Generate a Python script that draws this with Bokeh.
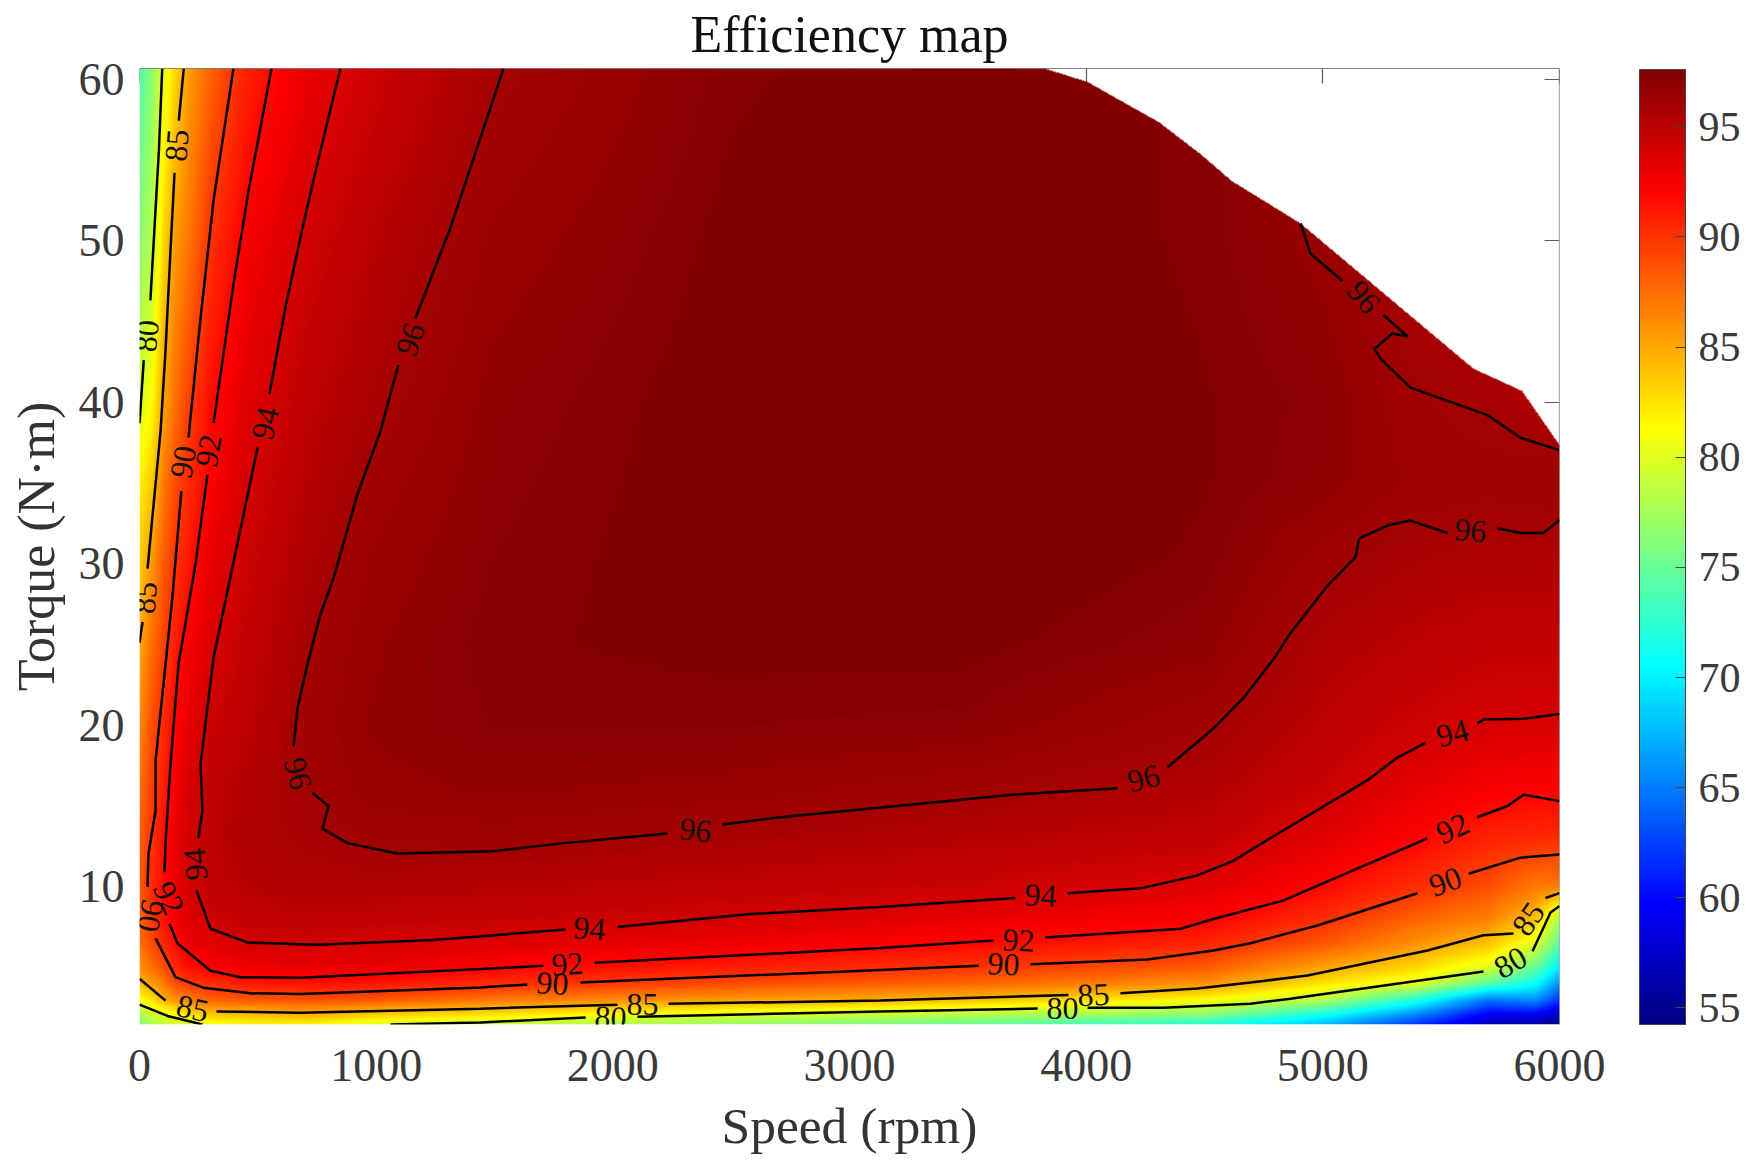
import numpy as np
from bokeh.plotting import figure
from bokeh.embed import file_html
from bokeh.resources import INLINE
from bokeh.models import (ColorBar, ColumnDataSource, CustomLabelingPolicy, FixedTicker, LabelSet, LinearAxis,
                          LinearColorMapper, Range1d, Span)

TITLE = "Efficiency map"
X_LABEL = "Speed (rpm)"
Y_LABEL = "Torque (N·m)"
X_TICKS = [0, 1000, 2000, 3000, 4000, 5000, 6000]
Y_TICKS = [10, 20, 30, 40, 50, 60]
CB_TICKS = [55, 60, 65, 70, 75, 80, 85, 90, 95]
SPEED_MAX = 6000
TORQUE_MIN, TORQUE_MAX = 1.47, 60.66
EFF_MIN, EFF_MAX = 54.25, 97.6

# efficiency table: one list per speed, one value per torque
torque_axis = [1.47, 2, 3, 4, 5, 6.5, 8, 10, 13, 16, 20, 25, 30, 35, 40, 50, 60.66]
speed_axis = [0, 50, 100, 150, 200, 300, 450, 700, 1000, 1500, 2500, 3500, 4500, 5000, 5400, 5700, 5900, 6000]
eff_0 = [76, 77.5, 81, 84.3, 86, 87.5, 88, 88.3, 88, 87.5, 86.5, 85, 83.5, 82, 79.7, 76.5, 74]
eff_50 = [78, 79, 82.5, 85.5, 87.5, 89, 90, 90.4, 90, 89.5, 88.8, 87.5, 85.8, 83.5, 81.3, 78.2, 76.5]
eff_100 = [79, 79.6, 84.8, 87, 88.8, 90.6, 91.4, 91.8, 91.6, 91, 90.4, 89.4, 88.3, 87, 85.3, 83, 80.2]
eff_150 = [79.5, 81, 86, 89, 90.5, 91.7, 92.6, 93, 93, 92.6, 92.1, 91, 90, 88.9, 87.5, 85.7, 83]
eff_200 = [79.3, 82, 86.8, 89.7, 91.6, 93, 93.5, 93.9, 94, 93.7, 93, 92.3, 91.1, 90.3, 89.2, 87, 85.3]
eff_300 = [80.8, 83.5, 88.2, 90.3, 92.2, 93.4, 94.2, 94.8, 95, 94.9, 94.4, 93.7, 93.1, 92.3, 91.7, 90.1, 88]
eff_450 = [81.8, 83.5, 88.5, 91.2, 92.8, 94, 94.7, 95.2, 95.5, 95.4, 95, 94.7, 94.3, 93.9, 93.4, 92.4, 90.8]
eff_700 = [82, 84.5, 88.9, 91.5, 93, 94.1, 95, 95.5, 95.8, 96, 96.1, 95.9, 95.6, 95.2, 94.9, 94.1, 92.9]
eff_1000 = [80.2, 83.1, 88.6, 91.4, 93, 93.9, 94.8, 95.5, 96.1, 96.6, 96.8, 96.7, 96.5, 96.2, 95.8, 95.2, 94.3]
eff_1500 = [79, 82.2, 87.2, 90.4, 92.1, 93.5, 94.6, 95.3, 96.2, 96.8, 97.1, 97.2, 97.1, 97, 96.9, 96.5, 95.9]
eff_2500 = [77, 79.7, 85.7, 89, 91, 92.8, 94, 94.9, 95.8, 96.6, 97.1, 97.4, 97.5, 97.5, 97.5, 97.4, 97.2]
eff_3500 = [75, 78, 84.3, 88, 90, 91.9, 93.1, 94.4, 95.3, 96.1, 97, 97.4, 97.6, 97.6, 97.6, 97.6, 97.5]
eff_4500 = [72, 76, 81.5, 86, 88.4, 90.7, 92.2, 93.4, 94.8, 95.4, 96.1, 96.9, 97.2, 97.3, 97.3, 97.2, 97.2]
eff_5000 = [68, 71, 78.5, 82.5, 85.3, 88.6, 90.3, 91.9, 93.4, 94.4, 95, 95.5, 96.2, 96.9, 97, 96.6, 96]
eff_5400 = [62, 65, 72, 80.3, 83, 86, 88, 90.2, 92, 93.2, 94.3, 95, 95.7, 96.3, 96.1, 95.5, 95]
eff_5700 = [57, 59, 65, 74.5, 80, 84, 86.7, 88.9, 90.7, 92.4, 93.9, 94.7, 95.5, 96.2, 95.9, 95.3, 95]
eff_5900 = [56, 59, 66, 71, 75, 80.3, 84, 87, 90.5, 92.1, 93.8, 94.7, 95.5, 96.3, 95.6, 95.3, 95]
eff_6000 = [54.5, 57, 62, 66, 70, 74.5, 78, 87, 90.3, 92.1, 93.8, 94.7, 95.4, 96.4, 95.5, 95.2, 95]
eff_columns = [eff_0, eff_50, eff_100, eff_150, eff_200, eff_300, eff_450, eff_700, eff_1000,
               eff_1500, eff_2500, eff_3500, eff_4500, eff_5000, eff_5400, eff_5700, eff_5900, eff_6000]

# torque limit of the machine: above it the map is empty
limit_speed = [3832, 4006, 4310, 4483, 4618, 4906, 5637, 5844, 6000]
limit_torque = [60.66, 59.86, 57.35, 55.4, 53.7, 51.1, 42.1, 40.7, 37.4]

# contour pieces, as (speeds, torques)
c80_pieces = [
    ([96, 82, 46], [60.66, 55.6, 46.3]),
    ([18, 0], [42.6, 38.7]),
    ([0, 118, 266], [2.7, 2.0, 1.47]),
    ([1061, 1441, 1885], [1.47, 1.6, 1.9]),
    ([2104, 3131, 3795], [1.95, 2.27, 2.46]),
    ([4006, 4327, 4694, 4863, 5679], [2.5, 2.5, 2.75, 3.07, 4.75]),
    ([5886, 5962, 6000], [6.0, 8.4, 8.8]),
]
c85_pieces = [
    ([187, 166], [60.66, 57.44]),
    ([148, 131, 110, 89, 34], [54.2, 49.4, 43.2, 38.2, 29.7]),
    ([13, 0], [26.4, 25.1]),
    ([0, 110], [4.3, 2.95]),
    ([325, 680, 1441, 2020], [2.27, 2.2, 2.45, 2.7]),
    ([2235, 3131, 3925], [2.75, 2.95, 3.3]),
    ([4145, 4470, 4694, 4935, 5442, 5679, 5806], [3.4, 3.7, 4.07, 4.5, 6.05, 7.0, 7.1]),
    ([5941, 6000], [9.3, 9.6]),
]
c90_pieces = [
    ([397, 313, 258, 207], [60.66, 52.5, 45.2, 37.8]),
    ([177, 139, 68, 68, 38, 34], [34.5, 27.9, 17.8, 14.7, 12.05, 10]),
    ([68, 152, 270, 469, 680, 1441, 1639], [6.8, 4.4, 3.75, 3.4, 3.36, 3.76, 3.95]),
    ([1863, 3131, 3545], [4.07, 4.85, 5.1]),
    ([3765, 4259, 4538, 4694, 4977, 5400], [5.2, 5.5, 6.05, 6.5, 7.6, 9.6]),
    ([5616, 5835, 6000], [10.8, 11.8, 12.0]),
]
c92_pieces = [
    ([558, 461, 397, 313], [60.66, 53.1, 47.3, 38.7]),
    ([287, 237, 165, 131, 110, 106], [35.5, 30.0, 23.8, 17.6, 12.7, 10.9]),
    ([127, 160, 300, 427, 680, 1441, 1707], [7.7, 6.5, 4.8, 4.4, 4.36, 4.9, 5.1]),
    ([1923, 3131, 3609], [5.3, 6.2, 6.67]),
    ([3828, 4399, 4538, 4834, 5442], [6.85, 7.4, 8.0, 9.15, 13.0]),
    ([5653, 5780, 5848, 6000], [14.3, 15.0, 15.7, 15.3]),
]
c94_pieces = [
    ([849, 765, 693, 617, 549], [60.66, 55.6, 51.06, 45.9, 40.5]),
    ([499, 414, 313, 258, 266, 249], [37.2, 31.25, 24.2, 17.6, 14.7, 13.0]),
    ([241, 300, 456, 752, 1242, 1800], [9.76, 7.4, 6.55, 6.4, 6.7, 7.35]),
    ([2020, 2569, 3131, 3701], [7.5, 8.3, 8.75, 9.3]),
    ([3921, 4230, 4470, 4622, 4766, 5189, 5315, 5434], [9.6, 9.9, 10.7, 11.6, 12.9, 16.6, 18.0, 18.9]),
    ([5653, 5679, 5848, 6000], [20.1, 20.35, 20.4, 20.7]),
]
c96_pieces = [
    ([1538, 1314, 1166], [60.66, 50.8, 45.2]),
    ([1094, 1018, 921, 820, 765, 710, 668, 651], [42.3, 38.2, 34.3, 29.1, 26.9, 23.8, 21.1, 18.7]),
    ([731, 799, 773, 879, 1090, 1496, 1792, 2231], [15.8, 15.0, 13.6, 12.7, 12.06, 12.2, 12.7, 13.3]),
    ([2463, 2708, 3689, 4132], [13.85, 14.3, 15.7, 16.1]),
    ([4344, 4538, 4665, 4792, 4863, 5020, 5138, 5151, 5159, 5273, 5370, 5527],
     [17.4, 19.8, 21.7, 24.1, 25.7, 28.65, 30.4, 31.4, 31.6, 32.36, 32.67, 31.9]),
    ([5738, 5835, 5932, 6000], [32.2, 31.9, 31.9, 32.7]),
    ([4906, 4948, 5083], [51.07, 49.2, 47.5]),
    ([5256, 5358, 5294, 5218, 5244, 5370, 5696, 5835, 5996],
     [45.4, 44.07, 44.25, 43.3, 42.7, 40.9, 39.2, 37.8, 37.05]),
]

# in-line contour labels
label_speed = [32, 159, 25, 186, 292, 532, 1145, 46, 123, 237, 668, 224,
               1901, 1808, 1745, 2125, 1990, 2349,
               3807, 3714, 3651, 4031, 3900, 4242,
               5548, 5548, 5518, 5869, 5793, 5624, 5172]
label_torque = [44.1, 55.9, 27.9, 36.3, 37.0, 38.7, 43.9, 8.2, 9.3, 11.4, 17.0, 2.45,
                7.4, 5.2, 4.0, 2.7, 1.9, 13.5,
                9.45, 6.67, 5.2, 3.3, 2.46, 16.7,
                19.5, 13.6, 10.3, 8.0, 5.3, 32.05, 46.5]
label_text = ["80", "85", "85", "90", "92", "94", "96", "90", "92", "94", "96", "85",
              "94", "92", "90", "85", "80", "96",
              "94", "92", "90", "85", "80", "96",
              "94", "92", "90", "85", "80", "96", "96"]
label_angle = [85, 85, 85, 80, 80, 77, 71, -100, -65, 95, -75, -12,
               -4, 4, -4, 0, -3, -6,
               -3, -3, -3, 3, 0, 15,
               15, 25, 20, 55, 30, -5, -50]

# jet colour map
jet_pos = [0, 0.11, 0.125, 0.375, 0.625, 0.875, 0.89, 1]
jet_r = [0, 0, 0, 0, 1, 1, 0.94, 0.5]
jet_g = [0, 0, 0, 1, 1, 0, 0, 0]
jet_b = [0.5, 0.94, 1, 1, 0, 0, 0, 0]
pos = np.linspace(0, 1, 256)
rr = np.interp(pos, jet_pos, jet_r)
gg = np.interp(pos, jet_pos, jet_g)
bb = np.interp(pos, jet_pos, jet_b)
jet = ["#%02x%02x%02x" % (int(round(a * 255)), int(round(b * 255)), int(round(c * 255)))
       for a, b, c in zip(rr, gg, bb)]

# surface for the image
table = np.array(eff_columns, dtype=float)  # speed x torque
nx, ny = 1420, 956
xs = np.linspace(0, SPEED_MAX, nx)
ys = np.linspace(TORQUE_MIN, TORQUE_MAX, ny)
by_torque = np.array([np.interp(ys, torque_axis, col) for col in table])  # n_speed x ny
field = np.array([np.interp(xs, speed_axis, by_torque[:, j]) for j in range(ny)])
limit = np.interp(xs, limit_speed, limit_torque, left=1000)
field[ys[:, None] > limit[None, :]] = np.nan

mapper = LinearColorMapper(palette=jet, low=EFF_MIN, high=EFF_MAX, nan_color=(0, 0, 0, 0))

SERIF = "Liberation Serif"
p = figure(frame_width=1420, frame_height=956, output_backend="svg", toolbar_location=None,
           x_range=Range1d(0, SPEED_MAX), y_range=Range1d(TORQUE_MIN, TORQUE_MAX),
           min_border_left=139, min_border_top=68, min_border_bottom=140, min_border_right=197,
           background_fill_color="white", outline_line_color=None, title=TITLE)
p.grid.visible = False
p.title.align = "center"
p.title.text_font = SERIF
p.title.text_font_size = "52px"
p.title.text_font_style = "normal"
p.title.text_color = "#111111"
p.title.standoff = 4

p.image(image=[field.astype(np.float32)], x=0, y=TORQUE_MIN, dw=SPEED_MAX, dh=TORQUE_MAX - TORQUE_MIN,
        color_mapper=mapper)

for pieces in (c80_pieces, c85_pieces, c90_pieces, c92_pieces, c94_pieces, c96_pieces):
    p.multi_line([a for a, _ in pieces], [b for _, b in pieces], line_color="#000000", line_width=2.5)

labels = ColumnDataSource(dict(x=label_speed, y=label_torque, t=label_text, a=label_angle))
p.add_layout(LabelSet(x="x", y="y", text="t", angle="a", angle_units="deg", source=labels,
                      text_font=SERIF, text_font_size="32px", text_color="#111111",
                      text_align="center", text_baseline="middle"))

for ax in (p.xaxis[0], p.yaxis[0]):
    ax.major_label_text_font = SERIF
    ax.major_label_text_font_size = "46px"
    ax.major_label_text_color = "#3a3a3a"
    ax.axis_label_text_font = SERIF
    ax.axis_label_text_font_style = "normal"
    ax.axis_label_text_color = "#333333"
    ax.minor_tick_line_color = None
    ax.major_tick_in = 0
    ax.major_tick_out = 0
    ax.axis_line_color = None
p.xaxis[0].ticker = FixedTicker(ticks=X_TICKS)
p.yaxis[0].ticker = FixedTicker(ticks=Y_TICKS)
p.xaxis[0].axis_label = X_LABEL
p.yaxis[0].axis_label = Y_LABEL
p.xaxis[0].axis_label_text_font_size = "51.5px"
p.yaxis[0].axis_label_text_font_size = "52px"
p.xaxis[0].major_label_standoff = 25
p.yaxis[0].major_label_standoff = 15
p.xaxis[0].axis_label_standoff = 13
p.yaxis[0].axis_label_standoff = 11

no_labels = CustomLabelingPolicy(code="for (const i of Array.from(indices)) indices.unset(i); return indices;")
for side, ticks in (("right", Y_TICKS), ("above", X_TICKS)):
    ax = LinearAxis(ticker=FixedTicker(ticks=ticks), major_tick_in=15, major_tick_out=0,
                    minor_tick_line_color=None, major_label_text_font_size="1px",
                    major_label_standoff=0, major_label_policy=no_labels,
                    axis_line_color="#5a5a5a", major_tick_line_color="#5a5a5a",
                    axis_line_width=1.2, major_tick_line_width=1.2, level="underlay")
    p.add_layout(ax, side)

p.add_layout(Span(location=TORQUE_MAX, dimension="width", line_color="#5a5a5a", line_width=1, level="overlay"))

cb = ColorBar(color_mapper=mapper, ticker=FixedTicker(ticks=CB_TICKS), width=46, height=955,
              location=(76, 0), padding=0, margin=0,
              major_tick_in=10, major_tick_out=0, major_tick_line_color="#444444",
              major_tick_line_width=1, minor_tick_line_color=None, bar_line_color="#444444", bar_line_width=1,
              label_standoff=13, major_label_text_font=SERIF, major_label_text_font_size="42px",
              major_label_text_color="#3a3a3a", title=None)
p.add_layout(cb, "right")

open("out.html", "w").write(file_html(p, INLINE))
